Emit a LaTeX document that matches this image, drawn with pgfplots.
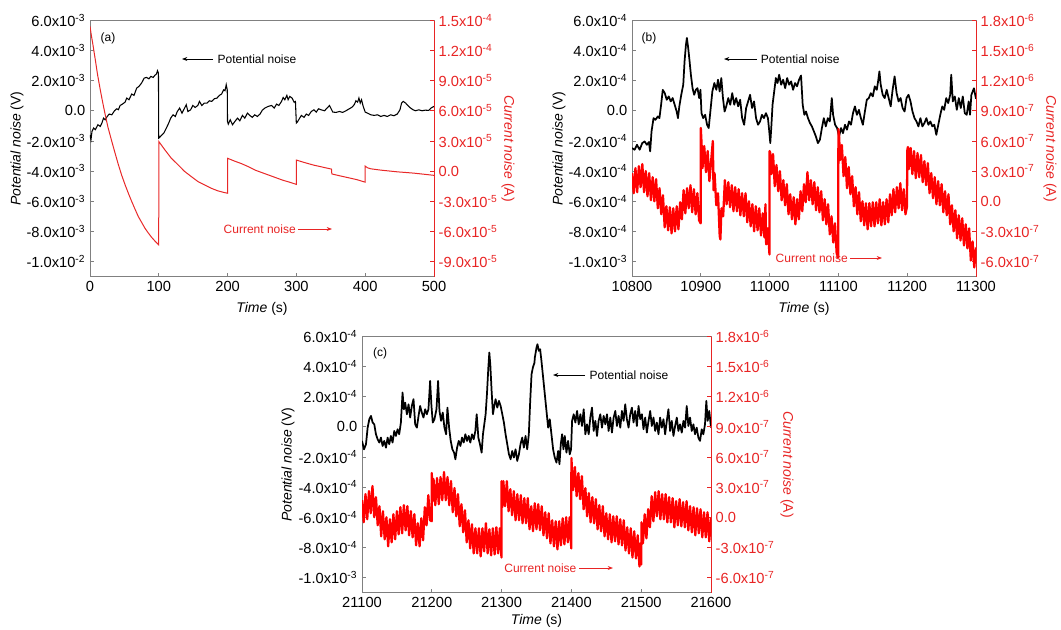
\documentclass[border=0pt]{standalone}
\usepackage{fontspec}
\setmainfont{Liberation Sans}
\usepackage{pgfplots}
\pgfplotsset{compat=1.18}
\usetikzlibrary{arrows.meta}
\definecolor{axgray}{RGB}{128,128,128}
\definecolor{txtred}{RGB}{232,36,36}
\definecolor{linered}{RGB}{255,0,0}
\definecolor{redA}{RGB}{232,40,40}
\pgfplotsset{
  panel/.style={
    scale only axis, width=258pt, height=192pt, anchor=south west,
    tick align=inside, major tick length=3pt, no marks, scaled ticks=false,
    axis line style={draw=axgray, line width=0.7pt},
    tick style={draw=axgray, line width=0.7pt},
    tick label style={font=\fontsize{11}{13}\selectfont, text=black},
    every axis x label/.style={at={(axis description cs:0.5,-0.125)}, anchor=center, font=\fontsize{10.5}{12}\selectfont},
    every axis y label/.style={at={(axis description cs:-0.212,0.5)}, rotate=90, anchor=center, font=\fontsize{10.5}{12}\selectfont},
    xtick pos=bottom, ytick pos=left,
  },
  rpanel/.style={
    scale only axis, width=258pt, height=192pt, anchor=south west,
    axis x line=none, axis y line*=right, no marks, scaled ticks=false,
    tick align=inside, major tick length=3pt,
    y axis line style={draw=txtred, line width=0.7pt, -},
    ytick style={draw=txtred, line width=0.7pt},
    yticklabel style={font=\fontsize{11}{13}\selectfont, text=txtred},
    every axis y label/.style={at={(axis description cs:1.215,0.5)}, rotate=-90, anchor=center, font=\fontsize{10.5}{12}\selectfont, text=txtred},
  },
  leftsmall/.style={ymin=-1.1e-3, ymax=6e-4,
    ytick={-1e-3,-8e-4,-6e-4,-4e-4,-2e-4,0,2e-4,4e-4,6e-4},
    yticklabels={{-1.0x10\textsuperscript{-3}},{-8.0x10\textsuperscript{-4}},{-6.0x10\textsuperscript{-4}},{-4.0x10\textsuperscript{-4}},{-2.0x10\textsuperscript{-4}},{0.0},{2.0x10\textsuperscript{-4}},{4.0x10\textsuperscript{-4}},{6.0x10\textsuperscript{-4}}},
    xlabel={\textit{Time} (s)}, ylabel={\textit{Potential noise} (V)}},
  rightsmall/.style={ymin=-7.5e-7, ymax=1.8e-6,
    ytick={-6e-7,-3e-7,0,3e-7,6e-7,9e-7,1.2e-6,1.5e-6,1.8e-6},
    yticklabels={{-6.0x10\textsuperscript{-7}},{-3.0x10\textsuperscript{-7}},{0.0},{3.0x10\textsuperscript{-7}},{6.0x10\textsuperscript{-7}},{9.0x10\textsuperscript{-7}},{1.2x10\textsuperscript{-6}},{1.5x10\textsuperscript{-6}},{1.8x10\textsuperscript{-6}}},
    ylabel={\textit{Current noise} (A)}},
}
\begin{document}
\begin{tikzpicture}
\useasboundingbox (0,0) rectangle (795.75pt,-471.75pt);

% ---------------- panel (a) ----------------
\begin{axis}[panel, at={(67.5pt,-207.4pt)}, xmin=0, xmax=500, ymin=-1.1e-2, ymax=6e-3,
  xtick={0,100,200,300,400,500}, xticklabels={0,100,200,300,400,500},
  ytick={-1e-2,-8e-3,-6e-3,-4e-3,-2e-3,0,2e-3,4e-3,6e-3},
  yticklabels={{-1.0x10\textsuperscript{-2}},{-8.0x10\textsuperscript{-3}},{-6.0x10\textsuperscript{-3}},{-4.0x10\textsuperscript{-3}},{-2.0x10\textsuperscript{-3}},{0.0},{2.0x10\textsuperscript{-3}},{4.0x10\textsuperscript{-3}},{6.0x10\textsuperscript{-3}}},
  xlabel={\textit{Time} (s)}, ylabel={\textit{Potential noise} (V)}]
\addplot[black, line width=0.8pt] coordinates {
(0,-1.59e-3)(1.4,-1.92e-3)(2.9,-1.36e-3)(5.3,-1.14e-3)(7.7,-1.25e-3)(11.5,-0.92e-3)(14.9,-1.03e-3)(17.3,-0.81e-3)(19.7,-0.48e-3)(22.1,-0.59e-3)(25,-0.37e-3)(27.9,-0.21e-3)(31.7,-0.26e-3)(35.6,0.01e-3)(38.9,0.14e-3)(41.3,0.08e-3)(43.8,0.36e-3)(47.1,0.45e-3)(51,0.58e-3)(53.4,0.85e-3)(56.7,0.74e-3)(60.6,1.12e-3)(64,1.03e-3)(67.8,1.51e-3)(71.2,1.63e-3)(75,1.85e-3)(78.8,2.18e-3)(82.2,2.22e-3)(85.6,2.13e-3)(88.5,2.29e-3)(91.8,2.22e-3)(94.2,2.36e-3)(96.6,2.45e-3)(98.1,2.67e-3)(99.5,2.51e-3)
(99.9,-1.81e-3)(101,-1.77e-3)(103.8,-1.63e-3)(107.2,-1.48e-3)(111,-1.14e-3)(114.4,-0.81e-3)(117.3,-0.48e-3)(120.7,-0.26e-3)(124,-0.37e-3)(126.9,-0.04e-3)(130.3,0.19e-3)(133.7,-0.15e-3)(137.5,0.19e-3)(139.9,0.41e-3)(142.3,-0.04e-3)(146.2,0.07e-3)(149.5,0.36e-3)(152.9,0.23e-3)(156.7,0.36e-3)(159.1,0.63e-3)(162.5,0.36e-3)(166.3,0.52e-3)(170.2,0.52e-3)(173.6,0.67e-3)(176.9,0.63e-3)(180.8,0.81e-3)(184.6,0.85e-3)(188,1.03e-3)(191.3,1.12e-3)(194.2,1.40e-3)(196.2,1.34e-3)(198,1.74e-3)(199.5,1.40e-3)
(199.9,-0.70e-3)(201,-0.88e-3)(203.8,-0.59e-3)(207.2,-0.92e-3)(210.6,-0.70e-3)(214.4,-0.48e-3)(217.8,-0.66e-3)(221.6,-0.30e-3)(225,-0.48e-3)(228.8,-0.15e-3)(232.2,-0.30e-3)(236,-0.43e-3)(239.4,-0.26e-3)(243.3,-0.37e-3)(247.1,-0.21e-3)(250.5,0.05e-3)(254.3,0.19e-3)(259.1,0.30e-3)(264,0.36e-3)(267.8,0.19e-3)(271.2,0.45e-3)(274.5,0.36e-3)(278.4,0.63e-3)(280.8,0.89e-3)(283.2,0.74e-3)(286.1,1.03e-3)(288,0.74e-3)(290.4,0.96e-3)(293.8,0.85e-3)(296.6,0.58e-3)(298.6,0.63e-3)
(299.9,-0.81e-3)(301.4,-0.74e-3)(304.8,-0.48e-3)(307.2,-0.30e-3)(311.1,-0.43e-3)(314.4,-0.21e-3)(317.8,-0.30e-3)(321.6,-0.04e-3)(325.5,0.07e-3)(328.8,-0.08e-3)(332.2,0.14e-3)(336,0.07e-3)(340.9,0.01e-3)(344.7,0.19e-3)(348.1,0.36e-3)(350.5,0.14e-3)(352.9,-0.08e-3)(357.7,-0.10e-3)(362.5,-0.04e-3)(367.3,-0.10e-3)(372.1,0.01e-3)(376.9,0.14e-3)(380.3,0.23e-3)(384.1,0.41e-3)(386.5,0.67e-3)(389,0.58e-3)(390.9,0.85e-3)(392.8,0.52e-3)(394.7,0.74e-3)(397.1,0.30e-3)
(400,-0.08e-3)(403.4,-0.15e-3)(408.2,-0.26e-3)(413,-0.30e-3)(417.8,-0.26e-3)(422.6,-0.37e-3)(427.4,-0.30e-3)(432.2,-0.37e-3)(437,-0.26e-3)(441.8,-0.32e-3)(446.6,-0.21e-3)(450.5,0.07e-3)(452.9,0.52e-3)(455.3,0.63e-3)(458.7,0.52e-3)(462,0.36e-3)(465.9,0.19e-3)(469.7,0.07e-3)(473.1,0.01e-3)(477.9,0.07e-3)(482.7,0.01e-3)(487.5,0.05e-3)(492.3,0.03e-3)(495.7,0.19e-3)(500,0.30e-3)
};
\end{axis}
\begin{axis}[rpanel, at={(67.5pt,-207.4pt)}, xmin=0, xmax=500, ymin=-1.05e-4, ymax=1.5e-4,
  ytick={-9e-5,-6e-5,-3e-5,0,3e-5,6e-5,9e-5,1.2e-4,1.5e-4},
  yticklabels={{-9.0x10\textsuperscript{-5}},{-6.0x10\textsuperscript{-5}},{-3.0x10\textsuperscript{-5}},{0.0},{3.0x10\textsuperscript{-5}},{6.0x10\textsuperscript{-5}},{9.0x10\textsuperscript{-5}},{1.2x10\textsuperscript{-4}},{1.5x10\textsuperscript{-4}}},
  ylabel={\textit{Current noise} (A)}]
\addplot[redA, line width=0.75pt] coordinates {
(0,14.42e-5)(2,13.5e-5)(4,12.7e-5)(7.7,11.10e-5)(11,9.6e-5)(14.9,8.11e-5)(18,7.0e-5)(22.1,5.62e-5)(26,4.4e-5)(31.7,2.96e-5)(36,1.9e-5)(41.3,0.63e-5)(46,-0.4e-5)(51,-1.36e-5)(56,-2.25e-5)(60.6,-3.02e-5)(65.5,-3.8e-5)(70.2,-4.52e-5)(75,-5.1e-5)(79.8,-5.68e-5)(84.6,-6.15e-5)(89.4,-6.58e-5)(94.2,-6.95e-5)(99.9,-7.34e-5)
(100,2.95e-5)(108.7,2.13e-5)(118,1.30e-5)(128,0.63e-5)(137.5,-0.03e-5)(147,-0.53e-5)(156.7,-1.03e-5)(166,-1.36e-5)(176,-1.70e-5)(185.6,-1.96e-5)(195,-2.13e-5)(199.9,-2.2e-5)
(200,1.28e-5)(210,1.0e-5)(220,0.75e-5)(230,0.45e-5)(240,0.1e-5)(250,-0.15e-5)(260,-0.4e-5)(270,-0.65e-5)(280,-0.9e-5)(290,-1.1e-5)(299.9,-1.32e-5)
(300,1.1e-5)(312,0.85e-5)(325,0.6e-5)(338,0.4e-5)(351,0.2e-5)(351.5,-0.28e-5)(362,-0.45e-5)(375,-0.65e-5)(388,-0.85e-5)(399.9,-1.1e-5)
(400,0.5e-5)(403.4,0.33e-5)(408.2,0.23e-5)(422.6,0.1e-5)(446.6,-0.07e-5)(470.7,-0.2e-5)(494.7,-0.38e-5)(500,-0.42e-5)
};
\end{axis}

% ---------------- panel (b) ----------------
\begin{axis}[panel, leftsmall, at={(474pt,-207.4pt)}, xmin=10800, xmax=11300,
  xtick={10800,10900,11000,11100,11200,11300}, xticklabels={10800,10900,11000,11100,11200,11300}]
\addplot[black, line width=1.3pt, line join=round] coordinates {
(10800,-2.47e-4)(10803.8,-2.58e-4)(10807.2,-2.25e-4)(10811.1,-2.58e-4)(10814.9,-2.14e-4)(10818.3,-2.03e-4)(10821.6,-2.25e-4)(10824.5,-2.07e-4)(10826.4,-2.69e-4)(10828.4,-1.36e-4)(10831.3,-0.48e-4)(10834.1,-0.59e-4)(10837.5,-0.37e-4)(10839.9,-0.48e-4)(10842.3,0.41e-4)(10844.7,1.40e-4)(10847.6,1.18e-4)(10850.5,0.74e-4)(10853.4,0.96e-4)(10856.3,0.63e-4)(10859.1,0.85e-4)(10862,0.41e-4)(10864.9,-0.04e-4)(10866.8,-0.48e-4)(10868.8,0.30e-4)(10871.6,1.07e-4)(10874.5,1.74e-4)(10876.4,3.29e-4)(10878.4,4.39e-4)(10879.8,4.84e-4)(10881.7,4.17e-4)(10883.7,3.29e-4)(10885.6,2.40e-4)(10888,1.51e-4)(10890.4,1.07e-4)(10892.8,1.40e-4)(10895.2,1.51e-4)(10897.6,0.85e-4)(10899.5,1.40e-4)
(10901,-0.15e-4)(10903.4,-0.48e-4)(10906.3,-0.26e-4)(10909.1,-0.92e-4)(10911.5,-1.14e-4)(10913.9,-0.04e-4)(10916.8,1.29e-4)(10919.7,1.85e-4)(10922.6,1.40e-4)(10925,2.07e-4)(10927.4,1.29e-4)(10929.8,2.18e-4)(10932.2,0.85e-4)(10934.6,-0.04e-4)(10937,0.30e-4)(10939.9,0.85e-4)(10942.8,0.41e-4)(10945.7,1.18e-4)(10948.6,0.41e-4)(10951.4,0.85e-4)(10954.3,0.30e-4)(10957.2,0.74e-4)(10960.1,-0.48e-4)(10963,-0.92e-4)(10965.9,0.19e-4)(10968.8,0.63e-4)(10971.6,1.07e-4)(10974.5,0.19e-4)(10977.4,0.63e-4)(10980.3,-0.48e-4)(10983.2,-0.92e-4)(10986.1,-0.70e-4)(10988.9,-0.26e-4)(10991.8,-0.48e-4)(10994.7,-0.15e-4)(10997.6,-0.48e-4)(10999.5,-1.36e-4)
(11001,-2.14e-4)(11002.4,-1.14e-4)(11004.3,0.41e-4)(11006.7,1.29e-4)(11009.1,2.18e-4)(11011.5,1.85e-4)(11013.9,2.40e-4)(11016.8,1.74e-4)(11019.7,2.07e-4)(11022.6,1.51e-4)(11025.5,2.18e-4)(11028.4,1.74e-4)(11031.3,1.96e-4)(11034.1,1.40e-4)(11037,1.85e-4)(11039.9,1.63e-4)(11042.8,2.07e-4)(11045.7,2.35e-4)(11048.1,0.41e-4)(11050.5,-0.26e-4)(11052.9,-0.04e-4)(11055.8,-0.48e-4)(11058.7,-0.81e-4)(11061.5,-1.03e-4)(11064.4,-1.36e-4)(11067.3,-1.70e-4)(11070.2,-2.14e-4)(11073.1,-1.92e-4)(11076,-1.14e-4)(11078.8,-0.48e-4)(11081.7,-1.03e-4)(11084.6,-0.48e-4)(11087.5,-0.70e-4)(11090.4,0.85e-4)(11092.3,-0.26e-4)(11095.2,-0.92e-4)(11098.1,-1.14e-4)
(11101,-1.70e-4)(11103.8,-1.14e-4)(11106.7,-1.48e-4)(11109.6,-0.92e-4)(11112.5,-1.25e-4)(11115.4,-0.70e-4)(11118.3,-0.92e-4)(11121.2,-0.15e-4)(11124,0.30e-4)(11126.9,-0.26e-4)(11129.8,0.07e-4)(11132.7,-0.48e-4)(11135.6,-0.92e-4)(11138.5,-0.04e-4)(11141.3,0.74e-4)(11144.2,0.85e-4)(11147.1,1.18e-4)(11150,0.96e-4)(11152.9,1.63e-4)(11155.8,1.40e-4)(11157.7,1.96e-4)(11159.6,2.62e-4)(11161.5,1.74e-4)(11164.4,1.07e-4)(11167.3,0.85e-4)(11170.2,1.40e-4)(11173.1,0.85e-4)(11176,0.30e-4)(11178.8,1.40e-4)(11181.7,2.29e-4)(11184.6,1.18e-4)(11187.5,0.63e-4)(11190.4,0.85e-4)(11193.3,0.19e-4)(11196.2,-0.04e-4)(11199,0.85e-4)
(11201.9,1.07e-4)(11204.8,0.63e-4)(11207.7,-0.04e-4)(11210.6,-0.48e-4)(11213.5,-0.70e-4)(11216.3,-1.03e-4)(11219.2,-0.48e-4)(11222.1,-1.03e-4)(11225,-0.81e-4)(11227.9,-0.48e-4)(11230.8,-0.92e-4)(11233.7,-0.70e-4)(11236.5,-1.03e-4)(11239.4,-0.92e-4)(11242.3,-1.59e-4)(11245.2,-0.92e-4)(11248.1,-0.26e-4)(11251,0.30e-4)(11253.8,0.07e-4)(11256.7,0.85e-4)(11259.6,0.52e-4)(11262.5,1.07e-4)(11264,2.40e-4)(11266.3,0.63e-4)(11269.2,0.96e-4)(11272.1,0.07e-4)(11275,0.85e-4)(11277.9,0.19e-4)(11280.8,0.96e-4)(11283.7,-0.15e-4)(11286.5,-0.26e-4)(11289.4,0.63e-4)(11291.3,-0.26e-4)(11293.3,1.07e-4)(11297,1.50e-4)(11300,0.80e-4)
};
\end{axis}
\begin{axis}[rpanel, rightsmall, at={(474pt,-207.4pt)}, xmin=10800, xmax=11300]
\addplot[linered, line width=1.7pt, line join=round] coordinates {
(10800,2.8e-7)(10802.5,0.8e-7)(10805,3.3e-7)(10807.5,0.9e-7)(10810,3.5e-7)(10812.5,1.4e-7)(10815,3.7e-7)(10817.5,0.9e-7)(10820,3.0e-7)(10822.5,0.5e-7)(10825,2.8e-7)(10827.5,0.1e-7)(10830,2.4e-7)(10832.5,0.0e-7)(10835,2.2e-7)(10837.5,-0.7e-7)(10840,1.3e-7)(10842.5,-1.3e-7)(10845,0.6e-7)(10847.5,-2.6e-7)(10850,-0.5e-7)(10852.5,-2.9e-7)(10855,-0.6e-7)(10857.5,-3.2e-7)(10860,-0.7e-7)(10862.5,-3.0e-7)(10865,-0.5e-7)(10867.5,-2.8e-7)(10870,-0.1e-7)(10872.5,-1.8e-7)(10875,1.1e-7)(10877.5,-1.2e-7)(10880,1.3e-7)(10882.5,-0.7e-7)(10885,1.6e-7)(10887.5,-1.1e-7)(10890,1.2e-7)(10892.5,-1.3e-7)(10895,0.8e-7)(10897.5,-1.9e-7)(10899.8,-2.2e-7)
(10900,7.3e-7)(10901,5.9e-7)(10902.5,3.3e-7)(10905,5.5e-7)(10907.5,2.9e-7)(10910,5.0e-7)(10912.5,2.0e-7)(10915,4.0e-7)(10917.5,6.0e-7)(10918.5,1.1e-7)(10920,2.8e-7)(10922.5,-0.4e-7)(10925,0.8e-7)(10927.5,-3.5e-7)(10928.5,-3.8e-7)(10930,-0.7e-7)(10932.5,-1.5e-7)(10935,2.1e-7)(10937.5,-0.3e-7)(10940,1.9e-7)(10942.5,-0.6e-7)(10945,1.6e-7)(10947.5,-1.0e-7)(10950,1.4e-7)(10952.5,-1.0e-7)(10955,1.2e-7)(10957.5,-1.4e-7)(10960,0.8e-7)(10962.5,-1.5e-7)(10965,0.8e-7)(10967.5,-2.1e-7)(10970,0.0e-7)(10972.5,-2.5e-7)(10975,-0.3e-7)(10977.5,-3.0e-7)(10980,-0.5e-7)(10982.5,-2.9e-7)(10985,-0.7e-7)(10987.5,-3.4e-7)(10990,-1.2e-7)(10992.5,-3.6e-7)(10994,-0.3e-7)(10995,-4.3e-7)(10997.5,-2.7e-7)(10999.8,-5.3e-7)
(11000,5.0e-7)(11001,4.8e-7)(11002.5,2.7e-7)(11005,4.7e-7)(11007.5,1.5e-7)(11010,3.6e-7)(11012.5,1.0e-7)(11015,3.0e-7)(11017.5,0.1e-7)(11020,2.1e-7)(11022.5,-0.4e-7)(11025,1.7e-7)(11027.5,-1.3e-7)(11030,0.7e-7)(11032.5,-1.8e-7)(11035,0.4e-7)(11037.5,-2.3e-7)(11040,0.2e-7)(11042.5,-1.8e-7)(11045,1.0e-7)(11047.5,-1.0e-7)(11050,1.7e-7)(11052.5,-0.1e-7)(11055,2.9e-7)(11057.5,0.1e-7)(11060,2.1e-7)(11062.5,-0.3e-7)(11065,1.9e-7)(11067.5,-0.9e-7)(11070,1.4e-7)(11072.5,-1.1e-7)(11075,1.0e-7)(11077.5,-1.9e-7)(11080,0.2e-7)(11082.5,-2.3e-7)(11085,-0.3e-7)(11087.5,-3.3e-7)(11090,-1.5e-7)(11092.5,-4.1e-7)(11095,-2.2e-7)(11097.5,-5.2e-7)(11099.8,-5.6e-7)
(11100,7.2e-7)(11101,6.5e-7)(11102.5,4.1e-7)(11105,5.6e-7)(11107.5,2.5e-7)(11110,4.4e-7)(11112.5,1.3e-7)(11115,3.4e-7)(11117.5,0.7e-7)(11120,2.5e-7)(11122.5,-0.5e-7)(11125,1.4e-7)(11127.5,-1.3e-7)(11130,0.9e-7)(11132.5,-2.0e-7)(11135,0.0e-7)(11137.5,-2.4e-7)(11140,-0.2e-7)(11142.5,-2.8e-7)(11145,-0.2e-7)(11147.5,-2.5e-7)(11150,-0.1e-7)(11152.5,-2.5e-7)(11155,-0.1e-7)(11157.5,-2.2e-7)(11160,0.2e-7)(11162.5,-2.4e-7)(11165,-0.1e-7)(11167.5,-2.3e-7)(11170,0.2e-7)(11172.5,-2.1e-7)(11175,0.7e-7)(11177.5,-1.4e-7)(11180,1.2e-7)(11182.5,-1.1e-7)(11185,1.4e-7)(11187.5,-0.7e-7)(11190,1.8e-7)(11192.5,-0.9e-7)(11195,1.2e-7)(11197.5,-1.3e-7)(11199.8,-0.5e-7)
(11200,5.0e-7)(11201,5.4e-7)(11202.5,3.2e-7)(11205,5.3e-7)(11207.5,2.7e-7)(11210,5.0e-7)(11212.5,2.3e-7)(11215,4.8e-7)(11217.5,2.4e-7)(11220,4.6e-7)(11222.5,1.9e-7)(11225,4.0e-7)(11227.5,1.6e-7)(11230,3.8e-7)(11232.5,0.8e-7)(11235,2.8e-7)(11237.5,0.3e-7)(11240,2.4e-7)(11242.5,-0.3e-7)(11245,2.0e-7)(11247.5,-0.4e-7)(11250,1.7e-7)(11252.5,-1.1e-7)(11255,1.0e-7)(11257.5,-1.4e-7)(11260,0.7e-7)(11262.5,-2.3e-7)(11265,-0.4e-7)(11267.5,-3.0e-7)(11270,-0.9e-7)(11272.5,-3.7e-7)(11275,-1.4e-7)(11277.5,-3.9e-7)(11280,-1.7e-7)(11282.5,-4.4e-7)(11285,-2.3e-7)(11287.5,-4.7e-7)(11290,-2.7e-7)(11292.5,-5.9e-7)(11295,-4.0e-7)(11297.5,-6.6e-7)(11300,-4.6e-7)
};
\end{axis}

% ---------------- panel (c) ----------------
\begin{axis}[panel, leftsmall, width=261.75pt, at={(271.5pt,-444.4pt)}, xmin=21100, xmax=21600,
  xtick={21100,21200,21300,21400,21500,21600}, xticklabels={21100,21200,21300,21400,21500,21600},
  every axis x label/.style={at={(axis description cs:0.5,-0.112)}, anchor=center, font=\fontsize{10.5}{12}\selectfont}]
\addplot[black, line width=1.3pt, line join=round] coordinates {
(21100,-0.93e-4)(21102.9,-1.49e-4)(21105.7,-1.15e-4)(21108.1,-0.05e-4)(21110.5,0.51e-4)(21112.9,0.73e-4)(21115.2,0.29e-4)(21117.6,0.17e-4)(21120,-0.49e-4)(21122.4,-0.82e-4)(21124.8,-1.04e-4)(21127.1,-0.71e-4)(21129.5,-1.27e-4)(21131.9,-0.93e-4)(21134.3,-1.38e-4)(21136.7,-0.71e-4)(21139,-1.15e-4)(21141.4,-0.60e-4)(21143.8,-1.04e-4)(21146.2,-0.27e-4)(21148.6,-0.60e-4)(21151,-0.16e-4)(21153.3,-0.49e-4)(21155.7,0.29e-4)(21158.1,2.28e-4)(21160,1.17e-4)(21161.9,1.61e-4)(21164.3,0.84e-4)(21166.7,1.50e-4)(21169,0.62e-4)(21171.4,1.39e-4)(21173.8,1.84e-4)(21176.2,0.17e-4)(21178.6,-0.05e-4)(21181,0.73e-4)(21183.3,1.39e-4)(21185.7,0.95e-4)(21188.1,0.62e-4)(21190.5,1.17e-4)(21192.9,0.84e-4)(21195.2,1.17e-4)(21197.6,3.05e-4)(21199.5,1.39e-4)
(21201.4,0.29e-4)(21203.8,0.51e-4)(21206.7,1.17e-4)(21209,3.05e-4)(21211,1.06e-4)(21213.3,0.40e-4)(21215.7,0.95e-4)(21218.1,-0.05e-4)(21220.5,-0.49e-4)(21222.4,1.28e-4)(21224.8,-0.05e-4)(21227.1,-0.93e-4)(21229.5,-1.49e-4)(21231.9,-1.71e-4)(21233.8,-2.15e-4)(21236.2,-1.38e-4)(21238.6,-0.93e-4)(21241,-1.27e-4)(21243.3,-0.71e-4)(21245.7,-1.04e-4)(21248.1,-0.49e-4)(21250.5,-0.93e-4)(21252.9,-0.60e-4)(21255.2,-1.04e-4)(21257.6,-0.49e-4)(21260,-0.82e-4)(21262.4,-0.27e-4)(21264.3,0.84e-4)(21266.7,-0.71e-4)(21269,-1.15e-4)(21271.4,-1.71e-4)(21273.3,-0.49e-4)(21275.2,0.17e-4)(21277.1,0.84e-4)(21279,2.17e-4)(21281,3.94e-4)(21282.4,4.94e-4)(21283.8,4.16e-4)(21285.7,2.39e-4)(21287.6,0.84e-4)(21289.5,1.39e-4)(21291.4,1.84e-4)(21293.8,1.28e-4)(21296.2,1.73e-4)(21298.6,1.39e-4)
(21301,0.84e-4)(21303.3,0.29e-4)(21305.7,-0.49e-4)(21308.1,-1.15e-4)(21310.5,-1.82e-4)(21312.9,-2.15e-4)(21315.2,-1.60e-4)(21317.6,-2.04e-4)(21320,-1.49e-4)(21322.4,-2.26e-4)(21324.8,-1.82e-4)(21327.1,-1.15e-4)(21329.5,-0.71e-4)(21331.9,-1.38e-4)(21334.3,-0.60e-4)(21336.7,-1.49e-4)(21339,-0.49e-4)(21341,1.73e-4)(21342.9,3.50e-4)(21344.8,3.94e-4)(21347.1,4.27e-4)(21347.6,4.60e-4)(21350,5.27e-4)(21351.4,5.49e-4)(21353.3,5.05e-4)(21355.2,5.16e-4)(21357.1,4.38e-4)(21359.5,3.28e-4)(21361.9,2.17e-4)(21364.3,1.06e-4)(21366.7,-0.05e-4)(21369,0.51e-4)(21371.4,-0.49e-4)(21373.8,-1.49e-4)(21376.2,-2.04e-4)(21378.6,-2.37e-4)(21381,-1.60e-4)(21382.9,-2.48e-4)(21384.8,-1.15e-4)(21386.7,-0.49e-4)(21388.6,-1.49e-4)(21390.5,-0.60e-4)(21392.9,-1.71e-4)(21395.2,-0.93e-4)(21397.6,-1.82e-4)(21399.5,-1.49e-4)
(21401,0.40e-4)(21403.3,0.84e-4)(21405.7,0.29e-4)(21408.1,1.06e-4)(21410.5,0.17e-4)(21412.9,0.84e-4)(21415.2,0.06e-4)(21417.6,1.17e-4)(21420,-0.49e-4)(21422.4,0.17e-4)(21424.8,-0.49e-4)(21427.1,0.62e-4)(21429.5,1.28e-4)(21431.9,-0.27e-4)(21434.3,0.40e-4)(21436.7,-0.60e-4)(21439,0.40e-4)(21441.4,0.84e-4)(21443.8,-0.05e-4)(21446.2,0.73e-4)(21448.6,0.17e-4)(21451,0.84e-4)(21453.3,-0.27e-4)(21455.7,0.62e-4)(21458.1,-0.38e-4)(21460.5,0.62e-4)(21462.9,1.06e-4)(21465.2,0.06e-4)(21467.6,0.73e-4)(21470,-0.05e-4)(21472.4,1.06e-4)(21474.8,0.40e-4)(21477.1,1.50e-4)(21479.5,0.51e-4)(21481.9,-0.05e-4)(21484.3,0.84e-4)(21486.7,1.28e-4)(21489,0.29e-4)(21491.4,1.06e-4)(21493.8,0.06e-4)(21496.2,1.39e-4)(21498.6,0.51e-4)
(21501,0.84e-4)(21503.3,-0.16e-4)(21505.7,0.62e-4)(21508.1,-0.38e-4)(21510.5,0.40e-4)(21512.9,1.06e-4)(21515.2,0.06e-4)(21517.6,0.62e-4)(21520,-0.27e-4)(21522.4,0.29e-4)(21524.8,-0.49e-4)(21527.1,0.62e-4)(21529.5,-0.05e-4)(21531.9,0.51e-4)(21534.3,-0.49e-4)(21536.7,0.40e-4)(21539,1.17e-4)(21541.4,-0.27e-4)(21543.8,0.40e-4)(21546.2,-0.60e-4)(21548.6,0.06e-4)(21551,0.62e-4)(21553.3,-0.27e-4)(21555.7,0.17e-4)(21558.1,-0.38e-4)(21560.5,0.40e-4)(21562.9,-0.05e-4)(21565.2,1.39e-4)(21567.6,0.06e-4)(21570,0.62e-4)(21572.4,-0.27e-4)(21574.8,0.17e-4)(21577.1,-0.49e-4)(21579.5,-0.05e-4)(21581.9,-0.71e-4)(21584.3,-0.93e-4)(21586.7,-0.16e-4)(21589,-0.49e-4)(21591.4,0.17e-4)(21593.3,1.73e-4)(21595.2,0.40e-4)(21597.5,1.06e-4)(21600,-0.05e-4)
};
\end{axis}
\begin{axis}[rpanel, rightsmall, width=261.75pt, at={(271.5pt,-444.4pt)}, xmin=21100, xmax=21600,
  every axis y label/.style={at={(axis description cs:1.218,0.5)}, rotate=-90, anchor=center, font=\fontsize{10.5}{12}\selectfont, text=txtred}]
\addplot[linered, line width=1.7pt, line join=round] coordinates {
(21100,1.7e-7)(21102.5,-0.5e-7)(21105,2.3e-7)(21107.5,-0.2e-7)(21110,2.6e-7)(21112.5,0.4e-7)(21115,3.1e-7)(21117.5,0.0e-7)(21120,2.0e-7)(21122.5,-0.8e-7)(21125,1.1e-7)(21127.5,-1.9e-7)(21130,0.6e-7)(21132.5,-2.2e-7)(21135,0.0e-7)(21137.5,-2.9e-7)(21140,-0.2e-7)(21142.5,-2.5e-7)(21145,0.3e-7)(21147.5,-2.2e-7)(21150,0.6e-7)(21152.5,-1.7e-7)(21155,1.0e-7)(21157.5,-1.6e-7)(21160,1.2e-7)(21162.5,-1.3e-7)(21165,1.1e-7)(21167.5,-1.8e-7)(21170,0.6e-7)(21172.5,-2.0e-7)(21175,0.3e-7)(21177.5,-2.8e-7)(21180,-0.6e-7)(21182.5,-2.9e-7)(21185,-0.1e-7)(21187.5,-2.3e-7)(21190,1.0e-7)(21192.5,-0.8e-7)(21195,2.2e-7)(21197.5,-0.3e-7)(21199.8,-0.4e-7)
(21200,4.4e-7)(21201,1.6e-7)(21202.5,3.8e-7)(21205,1.2e-7)(21207.5,3.9e-7)(21210,1.3e-7)(21212.5,4.0e-7)(21215,1.7e-7)(21217.5,4.5e-7)(21220,1.7e-7)(21222.5,4.0e-7)(21225,1.2e-7)(21227.5,3.6e-7)(21230,0.5e-7)(21232.5,2.9e-7)(21235,0.1e-7)(21237.5,2.3e-7)(21240,-0.9e-7)(21242.5,1.3e-7)(21245,-1.5e-7)(21247.5,0.7e-7)(21250,-2.5e-7)(21252.5,-0.3e-7)(21255,-3.1e-7)(21257.5,-0.7e-7)(21260,-3.6e-7)(21262.5,-1.1e-7)(21265,-3.6e-7)(21267.5,-1.1e-7)(21270,-3.9e-7)(21272.5,-1.1e-7)(21275,-3.4e-7)(21277.5,-0.6e-7)(21280,-3.6e-7)(21282.5,-1.2e-7)(21285,-3.8e-7)(21287.5,-1.1e-7)(21290,-3.7e-7)(21292.5,-1.0e-7)(21295,-3.6e-7)(21297.5,-1.1e-7)(21299.8,-4.0e-7)
(21300,3.6e-7)(21301,1.0e-7)(21302.5,3.6e-7)(21305,1.1e-7)(21307.5,3.6e-7)(21310,0.6e-7)(21312.5,2.8e-7)(21315,0.2e-7)(21317.5,2.6e-7)(21320,-0.3e-7)(21322.5,2.3e-7)(21325,-0.3e-7)(21327.5,2.2e-7)(21330,-0.6e-7)(21332.5,1.9e-7)(21335,-0.6e-7)(21337.5,1.9e-7)(21340,-1.2e-7)(21342.5,1.1e-7)(21345,-1.4e-7)(21347.5,1.4e-7)(21350,-1.2e-7)(21352.5,1.3e-7)(21355,-1.3e-7)(21357.5,1.1e-7)(21360,-1.8e-7)(21362.5,0.5e-7)(21365,-2.1e-7)(21367.5,0.4e-7)(21370,-2.6e-7)(21372.5,-0.3e-7)(21375,-2.9e-7)(21377.5,-0.4e-7)(21380,-3.2e-7)(21382.5,-0.4e-7)(21385,-2.8e-7)(21387.5,-0.1e-7)(21390,-2.7e-7)(21392.5,0.0e-7)(21395,-2.5e-7)(21397.5,0.0e-7)(21399.8,-3.1e-7)
(21400,5.9e-7)(21401,4.5e-7)(21402.5,2.7e-7)(21405,5.0e-7)(21407.5,2.1e-7)(21410,4.4e-7)(21412.5,1.8e-7)(21415,4.1e-7)(21417.5,0.8e-7)(21420,2.9e-7)(21422.5,0.1e-7)(21425,2.4e-7)(21427.5,-0.5e-7)(21430,2.0e-7)(21432.5,-0.6e-7)(21435,1.8e-7)(21437.5,-1.2e-7)(21440,1.2e-7)(21442.5,-1.4e-7)(21445,1.1e-7)(21447.5,-1.9e-7)(21450,0.4e-7)(21452.5,-2.2e-7)(21455,0.3e-7)(21457.5,-2.5e-7)(21460,0.1e-7)(21462.5,-2.4e-7)(21465,0.1e-7)(21467.5,-2.7e-7)(21470,-0.2e-7)(21472.5,-2.8e-7)(21475,-0.3e-7)(21477.5,-3.3e-7)(21480,-1.0e-7)(21482.5,-3.6e-7)(21485,-1.1e-7)(21487.5,-4.0e-7)(21490,-1.4e-7)(21492.5,-4.1e-7)(21495,-1.8e-7)(21497.5,-4.9e-7)(21499,-2.6e-7)(21500,-4.7e-7)
(21500.5,-0.5e-7)(21502.5,-2.6e-7)(21505,0.3e-7)(21507.5,-2.1e-7)(21510,0.8e-7)(21512.5,-1.0e-7)(21515,2.1e-7)(21517.5,-0.4e-7)(21520,2.5e-7)(21522.5,0.1e-7)(21525,2.6e-7)(21527.5,-0.2e-7)(21530,2.3e-7)(21532.5,-0.2e-7)(21535,2.3e-7)(21537.5,-0.5e-7)(21540,2.0e-7)(21542.5,-0.5e-7)(21545,1.9e-7)(21547.5,-1.0e-7)(21550,1.6e-7)(21552.5,-0.8e-7)(21555,1.8e-7)(21557.5,-0.9e-7)(21560,1.5e-7)(21562.5,-1.0e-7)(21565,1.6e-7)(21567.5,-1.3e-7)(21570,1.1e-7)(21572.5,-1.5e-7)(21575,1.0e-7)(21577.5,-1.8e-7)(21580,0.9e-7)(21582.5,-1.6e-7)(21585,0.8e-7)(21587.5,-2.0e-7)(21590,0.5e-7)(21592.5,-2.0e-7)(21595,0.5e-7)(21597.5,-2.4e-7)(21600,-0.1e-7)
};
\end{axis}

% ---------------- annotations ----------------
\begin{scope}[font=\fontsize{9}{11}\selectfont]
\node at (81pt,-28.5pt) {(a)};
\node at (486.75pt,-28.5pt) {(b)};
\node at (285pt,-264.75pt) {(c)};
\draw[-{Stealth[length=4pt,width=3pt]}, line width=0.6pt] (159.75pt,-44.25pt) -- (136.5pt,-44.25pt);
\node[anchor=west, inner sep=1pt] at (162pt,-44.25pt) {Potential noise};
\node[anchor=east, inner sep=1pt, text=txtred] at (223pt,-171.75pt) {Current noise};
\draw[-{Stealth[length=4pt,width=3pt]}, line width=0.6pt, txtred] (223.5pt,-171.75pt) -- (249pt,-171.75pt);
\draw[-{Stealth[length=4pt,width=3pt]}, line width=0.6pt] (567.75pt,-44.25pt) -- (543pt,-44.25pt);
\node[anchor=west, inner sep=1pt] at (569.5pt,-44.25pt) {Potential noise};
\node[anchor=east, inner sep=1pt, text=txtred] at (637pt,-193.5pt) {Current noise};
\draw[-{Stealth[length=4pt,width=3pt]}, line width=0.6pt, txtred] (637.5pt,-193.5pt) -- (661.5pt,-193.5pt);
\draw[-{Stealth[length=4pt,width=3pt]}, line width=0.6pt] (438.75pt,-281.25pt) -- (414.75pt,-281.25pt);
\node[anchor=west, inner sep=1pt] at (441pt,-281.25pt) {Potential noise};
\node[anchor=east, inner sep=1pt, text=txtred] at (433.5pt,-426pt) {Current noise};
\draw[-{Stealth[length=4pt,width=3pt]}, line width=0.6pt, txtred] (434.25pt,-426pt) -- (459.75pt,-426pt);
\end{scope}
\end{tikzpicture}
\end{document}
